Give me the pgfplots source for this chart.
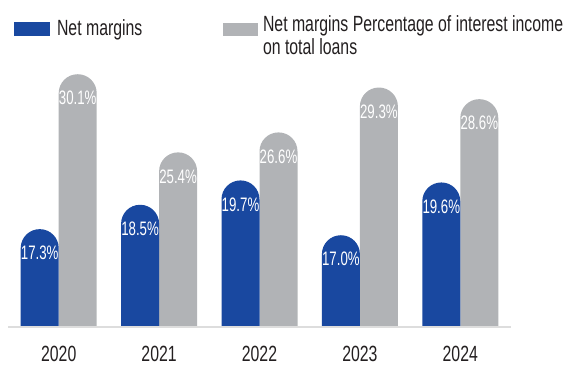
\documentclass[border=0pt]{standalone}
\usepackage{fontspec}
\setmainfont{Liberation Sans}[FakeStretch=0.72]
\newfontfamily\labfont{Liberation Sans}[FakeStretch=0.68]
\usepackage{pgfplots}
\pgfplotsset{compat=1.18}
\definecolor{netblue}{RGB}{25,72,160}
\definecolor{netgray}{RGB}{177,179,182}
\definecolor{axisgray}{RGB}{221,221,221}
\definecolor{textdark}{RGB}{35,31,32}
\newcommand{\bigfont}{\fontsize{22}{22}\selectfont}
\newcommand{\smallfont}{\labfont\fontsize{19.5}{19.5}\selectfont}
\begin{document}
\begin{tikzpicture}
\useasboundingbox (0pt,0pt) rectangle (579pt,366pt);
\pgfplotsset{
  barax/.style={
    at={(8.5pt,14pt)}, anchor=south west,
    scale only axis, width=502pt, height=302pt,
    xmin=-0.5, xmax=4.5, hide axis, clip=true,
    legend image code/.code={},
    legend cell align=left,
  },
  barlabels/.style={
    point meta=y,
    nodes near coords={\pgfmathprintnumber[fixed,fixed zerofill,precision=1,assume math mode=true]{\pgfplotspointmeta}\%},
    every node near coord/.append style={font=\smallfont, text=white, anchor=center, inner sep=0pt, yshift=-24pt, xshift=#1},
  },
}
\begin{scope}
\clip (0pt,39pt) rectangle (579pt,366pt);
% Percentage of interest income on total loans (drawn first)
\begin{axis}[barax, ymin=13.3967, ymax=31.5566,
  legend style={draw=none, fill=none, at={(0.4273,1.1139)}, anchor=north west,
    inner sep=0pt, outer sep=0pt, column sep=0pt,
    nodes={inner sep=0pt, outer sep=0pt}, font=\bigfont, text=textdark}]
\addplot[ybar, bar width=38pt, bar shift=19pt, fill=netgray, draw=none,
  rounded corners=18.9pt, barlabels=19pt]
  coordinates {(0,30.1) (1,25.4) (2,26.6) (3,29.3) (4,28.6)};
\addlegendentry{\textcolor{netgray}{\rule[-4.4pt]{35pt}{12.9pt}}\hspace{5pt}\begin{tabular}[t]{@{}l@{}}Net margins Percentage of interest income\\on total loans\end{tabular}}
\end{axis}
% Net margins
\begin{axis}[barax, ymin=11.2485, ymax=26.1253,
  legend style={draw=none, fill=none, at={(0.011,1.1017)}, anchor=north west,
    inner sep=0pt, outer sep=0pt, column sep=0pt,
    nodes={inner sep=0pt, outer sep=0pt}, font=\bigfont, text=textdark}]
\addplot[ybar, bar width=38pt, bar shift=-19pt, fill=netblue, draw=none,
  rounded corners=18.9pt, barlabels=-19pt]
  coordinates {(0,17.3) (1,18.5) (2,19.7) (3,17.0) (4,19.6)};
\addlegendentry{\textcolor{netblue}{\rule[-0.3pt]{36pt}{13.3pt}}\hspace{7pt}Net margins}
\end{axis}
\end{scope}
% baseline and year labels
\begin{axis}[
  at={(8.5pt,39pt)}, anchor=south west,
  scale only axis, width=502pt, height=277pt,
  xmin=-0.5, xmax=4.5, ymin=0, ymax=1,
  axis y line=none, axis x line*=bottom,
  x axis line style={draw=axisgray, line width=2pt, -},
  xtick={0,1,2,3,4}, xticklabels={2020,2021,2022,2023,2024},
  major tick length=0pt, xtick style={draw=none},
  xticklabel style={font=\bigfont, text=textdark, anchor=base, inner sep=0pt, yshift=-35pt},
]
\end{axis}
\end{tikzpicture}
\end{document}
